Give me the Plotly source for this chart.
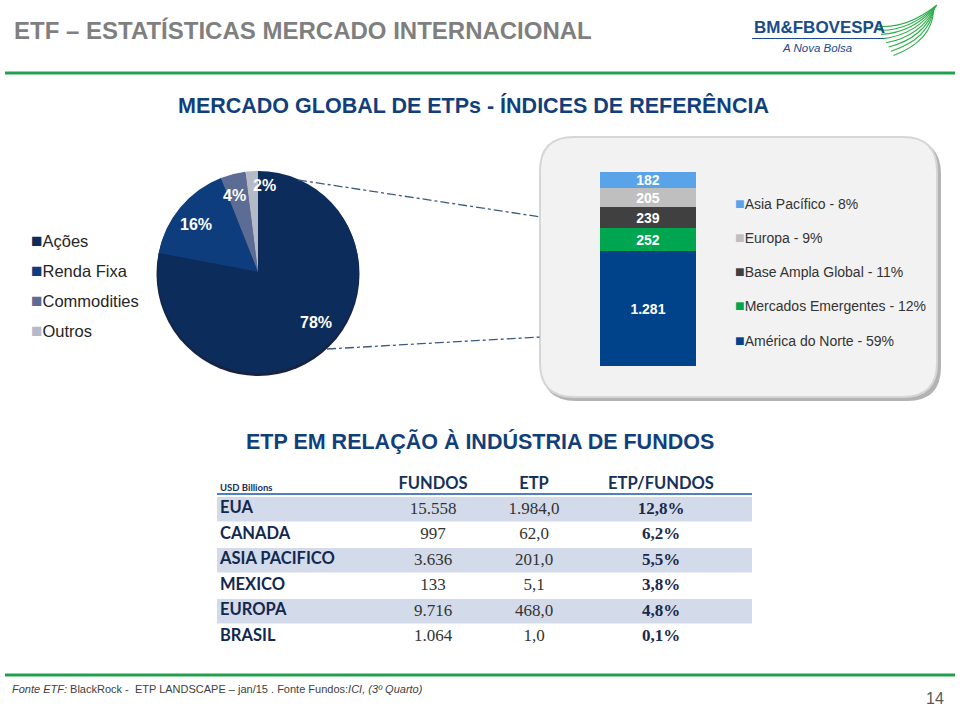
import math
import plotly.graph_objects as go

W, H = 960, 708

# ---------------- data ----------------
pie_labels = ["Ações", "Renda Fixa", "Commodities", "Outros"]
pie_values = [78, 16, 4, 2]

bar_regions = ["América do Norte", "Mercados Emergentes", "Base Ampla Global", "Europa", "Asia Pacífico"]
bar_values = [1281, 252, 239, 205, 182]
bar_shares = [59, 12, 11, 9, 8]

table_headers = ["USD Billions", "FUNDOS", "ETP", "ETP/FUNDOS"]
table_countries = ["EUA", "CANADA", "ASIA PACIFICO", "MEXICO", "EUROPA", "BRASIL"]
table_fundos = [15558, 997, 3636, 133, 9716, 1064]
table_etp = [1984.0, 62.0, 201.0, 5.1, 468.0, 1.0]
table_ratio = [12.8, 6.2, 5.5, 3.8, 4.8, 0.1]

# ---------------- styles ----------------
pie_colors = ["#0C2C5C", "#0E3D7E", "#5B6C95", "#B5BAC9"]
bar_colors = ["#00438A", "#00A54F", "#404040", "#BFBFBF", "#59A4E8"]
NAVY = "#123F7B"
SANS = "Liberation Sans, Arial, sans-serif"
SERIF = "Liberation Serif, Times New Roman, serif"
CAL = "Lato, Carlito, Calibri, sans-serif"
PIE_LABEL_R = [0.76, 0.77, 0.79, 0.86]       # radial position of % labels (fraction of radius)
PIE_LABEL_DANG = [-9.6, -2.4, -2.4, 7.6]     # angular nudge of % labels (degrees)
COL_X = [3, 216, 317, 444]                   # table column anchors (px from table left)


def px(x):
    return x / W


def py(y):
    return 1 - y / H


def br(v, dec=0):
    s = f"{v:,.{dec}f}"
    return s.replace(",", "X").replace(".", ",").replace("X", ".")


fig = go.Figure()

# ---------------- pie ----------------
PCX, PCY, PR = 258, 272, 101
fig.add_trace(go.Pie(
    labels=pie_labels, values=pie_values, sort=False, direction="clockwise",
    marker=dict(colors=pie_colors, line=dict(width=0)),
    textinfo="none", hoverinfo="label+percent", showlegend=False,
    domain=dict(x=[px(PCX - PR), px(PCX + PR)], y=[py(PCY + PR), py(PCY - PR)]),
))

# ---------------- stacked bar ----------------
for name, v, color in zip(bar_regions, bar_values, bar_colors):
    fig.add_trace(go.Bar(
        x=["ETP"], y=[v], name=name, marker=dict(color=color, line=dict(width=0)),
        text=[br(v)], textposition="inside", insidetextanchor="middle", textangle=0,
        constraintext="none",
        textfont=dict(color="white", size=14, family=SANS, weight="bold"),
        showlegend=False, hoverinfo="name+y", xaxis="x", yaxis="y",
    ))

# ---------------- table (text on its own axes) ----------------
rows = list(range(len(table_countries)))
fig.add_trace(go.Scatter(x=[COL_X[0]] * len(rows), y=rows, mode="text",
                         text=[f"<b>{c}</b>" for c in table_countries], textposition="middle right",
                         textfont=dict(family=CAL, size=16.5, color="#13284F"),
                         xaxis="x2", yaxis="y2", cliponaxis=False, hoverinfo="skip"))
fig.add_trace(go.Scatter(x=[COL_X[1]] * len(rows), y=rows, mode="text",
                         text=[br(v) for v in table_fundos], textposition="middle center",
                         textfont=dict(family=SERIF, size=17, color="#333333"),
                         xaxis="x2", yaxis="y2", cliponaxis=False, hoverinfo="skip"))
fig.add_trace(go.Scatter(x=[COL_X[2]] * len(rows), y=rows, mode="text",
                         text=[br(v, 1) for v in table_etp], textposition="middle center",
                         textfont=dict(family=SERIF, size=17, color="#333333"),
                         xaxis="x2", yaxis="y2", cliponaxis=False, hoverinfo="skip"))
fig.add_trace(go.Scatter(x=[COL_X[3]] * len(rows), y=rows, mode="text",
                         text=[f"<b>{br(v, 1)}%</b>" for v in table_ratio], textposition="middle center",
                         textfont=dict(family=SERIF, size=17, color="#1B2A4A"),
                         xaxis="x2", yaxis="y2", cliponaxis=False, hoverinfo="skip"))
fig.add_trace(go.Scatter(x=COL_X[1:], y=[-0.95] * 3, mode="text",
                         text=[f"<b>{h}</b>" for h in table_headers[1:]], textposition="middle center",
                         textfont=dict(family=CAL, size=16.5, color="#17305A"),
                         xaxis="x2", yaxis="y2", cliponaxis=False, hoverinfo="skip"))
fig.add_trace(go.Scatter(x=[COL_X[0]], y=[-0.82], mode="text",
                         text=[f"<b>{table_headers[0]}</b>"], textposition="middle right",
                         textfont=dict(family=CAL, size=9.5, color="#17305A"),
                         xaxis="x2", yaxis="y2", cliponaxis=False, hoverinfo="skip"))

fig.update_layout(
    barmode="stack", bargap=0,
    xaxis=dict(domain=[px(600), px(696)], range=[-0.5, 0.5], visible=False, fixedrange=True),
    yaxis=dict(domain=[py(366), py(172)], range=[0, sum(bar_values)], visible=False, fixedrange=True),
    xaxis2=dict(domain=[px(217), px(752)], range=[0, 535], visible=False, fixedrange=True, anchor="y2"),
    yaxis2=dict(domain=[py(649.5), py(471)], range=[len(rows) - 0.5, -1.5], visible=False,
                fixedrange=True, anchor="x2"),
    uniformtext=dict(minsize=14, mode="show"),
)

# ---------------- shapes ----------------
shapes = []
# green rules
shapes.append(dict(type="rect", xref="paper", yref="paper", x0=px(5), x1=px(955), y0=py(74.5), y1=py(71.5),
                   fillcolor="#21A150", line=dict(width=0), layer="below"))
shapes.append(dict(type="rect", xref="paper", yref="paper", x0=px(5), x1=px(955), y0=py(676.5), y1=py(673.5),
                   fillcolor="#21A150", line=dict(width=0), layer="below"))


def rrect(x0, y0, x1, y1, r):
    rx, ry = r / W, r / H
    X0, X1 = px(x0), px(x1)
    Y0, Y1 = py(y0), py(y1)
    return (f"M {X0 + rx},{Y0} L {X1 - rx},{Y0} Q {X1},{Y0} {X1},{Y0 - ry} "
            f"L {X1},{Y1 + ry} Q {X1},{Y1} {X1 - rx},{Y1} L {X0 + rx},{Y1} "
            f"Q {X0},{Y1} {X0},{Y1 + ry} L {X0},{Y0 - ry} Q {X0},{Y0} {X0 + rx},{Y0} Z")


shapes.append(dict(type="path", xref="paper", yref="paper", path=rrect(542, 140, 941, 401, 34),
                   fillcolor="#B3B3B3", line=dict(width=0), layer="below"))
shapes.append(dict(type="path", xref="paper", yref="paper", path=rrect(540, 137, 937, 397, 34),
                   fillcolor="#F2F2F2", line=dict(color="#D6D6D6", width=2), layer="below"))

# pie rim / shadow
shapes.append(dict(type="circle", xref="paper", yref="paper",
                   x0=px(PCX - PR - 0.5), x1=px(PCX + PR + 0.5), y0=py(PCY + PR + 3), y1=py(PCY - PR + 1),
                   fillcolor="#17233F", line=dict(width=0), layer="below"))

# connector lines
shapes.append(dict(type="line", xref="paper", yref="paper", x0=px(298), y0=py(180), x1=px(541), y1=py(217),
                   line=dict(color="#3F5A80", width=1.3, dash="dashdot")))
shapes.append(dict(type="line", xref="paper", yref="paper", x0=px(327), y0=py(349), x1=px(541), y1=py(337),
                   line=dict(color="#3F5A80", width=1.3, dash="dashdot")))

# table row shading and header rule
for i in rows:
    if i % 2 == 0:
        shapes.append(dict(type="rect", xref="x2", yref="y2", x0=0, x1=535, y0=i - 0.48, y1=i + 0.48,
                           fillcolor="#D3DBEA", line=dict(width=0), layer="below"))
shapes.append(dict(type="line", xref="x2", yref="y2", x0=0, x1=535, y0=-0.6, y1=-0.6,
                   line=dict(color="#4F81BD", width=2)))

# logo underline and swoosh
shapes.append(dict(type="line", xref="paper", yref="paper", x0=px(752), y0=py(38.5), x1=px(884), y1=py(38.5),
                   line=dict(color="#1A4B8C", width=1.2)))
for i in range(8):
    sx, sy = 876 + i * 2.5, 26 + i * 4.2
    cx, cy = 905 + i * 4, 30 + i * 1.5
    ex, ey = 937 - i * 0.5, 5 + i * 0.6
    shapes.append(dict(type="path", xref="paper", yref="paper",
                       path=f"M {px(sx)},{py(sy)} Q {px(cx)},{py(cy)} {px(ex)},{py(ey)}",
                       line=dict(color="#2DB04B", width=1.1)))

# ---------------- annotations ----------------
ann = []


def text(x, y, t, size, color, family=SANS, xanchor="left", yanchor="middle"):
    ann.append(dict(x=px(x), y=py(y), xref="paper", yref="paper", text=t, showarrow=False,
                    xanchor=xanchor, yanchor=yanchor, font=dict(size=size, color=color, family=family)))


text(12, 31, "<b>ETF – ESTATÍSTICAS MERCADO INTERNACIONAL</b>", 24, "#7F7F7F", SANS)
text(752, 27, "<b>BM&amp;FBOVESPA</b>", 17, "#1A4B8C", SANS)
text(780, 48, "<i>A Nova Bolsa</i>", 11.5, "#1A4B8C", SANS)
text(473, 105, "<b>MERCADO GLOBAL DE ETPs - ÍNDICES DE REFERÊNCIA</b>", 21.5, NAVY, SANS, "center")
text(480, 441, "<b>ETP EM RELAÇÃO À INDÚSTRIA DE FUNDOS</b>", 21.5, NAVY, SANS, "center")

# pie percentage labels (positioned from slice mid-angles)
total = sum(pie_values)
cum = 0
for v, rf, da in zip(pie_values, PIE_LABEL_R, PIE_LABEL_DANG):
    mid = (cum + v / 2) / total * 2 * math.pi + math.radians(da)
    cum += v
    r = PR * rf
    lx = PCX + r * math.sin(mid)
    ly = PCY - r * math.cos(mid)
    text(lx, ly, f"<b>{round(v / total * 100)}%</b>", 16, "white", SANS, "center")

# pie legend
for i, (lab, col) in enumerate(zip(pie_labels, pie_colors)):
    text(29, 240 + 30 * i, f"<span style='color:{col};font-size:19px'>■</span>{lab}", 16.5, "#262626", SANS)

# bar legend (top to bottom = reverse stacking)
for i, (name, share, col) in enumerate(reversed(list(zip(bar_regions, bar_shares, bar_colors)))):
    text(733, 203 + 34.3 * i, f"<span style='color:{col};font-size:16px'>■</span>{name} - {share}%",
         14, "#333333", SANS)

# footer
text(10, 689, "<i>Fonte ETF:</i> BlackRock -  ETP LANDSCAPE – jan/15 . Fonte Fundos:<i>ICI, (3º Quarto)</i>",
     11, "#404040", SANS)
text(935, 698, "14", 16, "#595959", SANS, "center")

fig.update_layout(
    width=W, height=H, autosize=False,
    margin=dict(l=0, r=0, t=0, b=0),
    paper_bgcolor="white", plot_bgcolor="rgba(0,0,0,0)",
    shapes=shapes, annotations=ann, showlegend=False,
    separators=",.",
)

fig.write_html(
    "out.html",
    config={"displayModeBar": False},
    post_script="document.body.style.margin='0px';document.body.style.padding='0px';"
                "document.body.style.overflow='hidden';",
)
